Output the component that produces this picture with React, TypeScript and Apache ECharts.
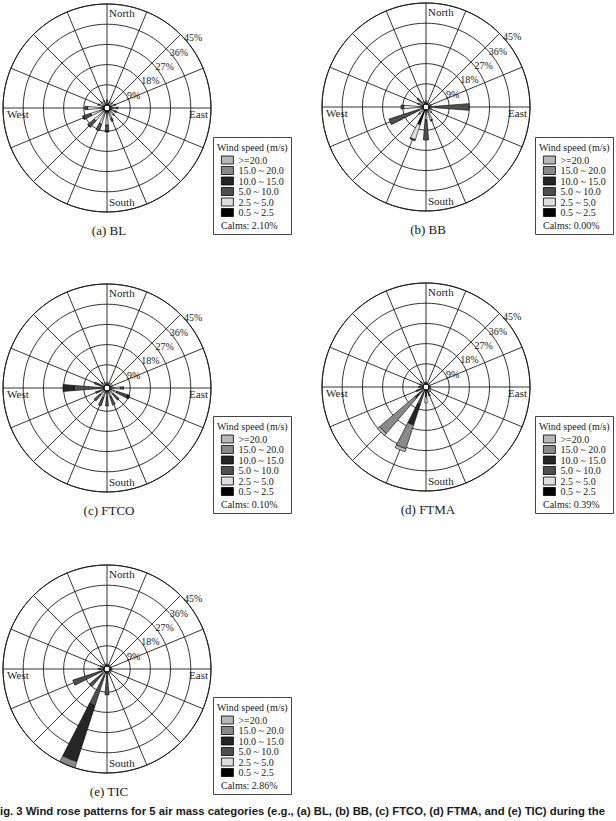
import React, { useEffect, useRef } from "react";
import * as echarts from "echarts";

// 16 compass sectors, clockwise from North
const directions = ["N", "NNE", "NE", "ENE", "E", "ESE", "SE", "SSE", "S", "SSW", "SW", "WSW", "W", "WNW", "NW", "NNW"];
// speed bins from centre outwards (stack order)
const speedBins = ["0.5 ~ 2.5", "2.5 ~ 5.0", "5.0 ~ 10.0", "10.0 ~ 15.0", "15.0 ~ 20.0", ">=20.0"];
// legend order (top to bottom)
const legendOrder = [">=20.0", "15.0 ~ 20.0", "10.0 ~ 15.0", "5.0 ~ 10.0", "2.5 ~ 5.0", "0.5 ~ 2.5"];
const ringMax = 45;
const ringStep = 9;
const panelTitles = ["(a) BL", "(b) BB", "(c) FTCO", "(d) FTMA", "(e) TIC"];
const calmValues = ["2.10%", "0.00%", "0.10%", "0.39%", "2.86%"];
const cardinalNames = ["North", "East", "South", "West"];
const captionText = "ig. 3 Wind rose patterns for 5 air mass categories (e.g., (a) BL, (b) BB, (c) FTCO, (d) FTMA, and (e) TIC) during the";

// (a) BL  — frequency (%) per direction for each speed bin
const bl_05 = [0.4, 0.4, 0.4, 0.5, 0.5, 0.5, 0.5, 0.6, 0.8, 0.8, 0.8, 0.8, 0.8, 0.5, 0.4, 0.4];
const bl_25 = [1.6, 1.2, 1.2, 1.8, 2.5, 2.0, 2.0, 3.0, 5.5, 5.5, 5.5, 5.5, 6.5, 2.0, 1.6, 1.4];
const bl_50 = [0.2, 0.2, 0.2, 0.4, 0.6, 0.8, 0.5, 1.3, 2.7, 3.1, 3.5, 3.5, 1.2, 0.4, 0.3, 0.2];
const bl_100 = [0, 0, 0, 0, 0, 0, 0, 0, 0.4, 0, 0.2, 0.3, 0, 0, 0, 0];
const bl_150 = [0, 0, 0, 0, 0, 0, 0, 0, 0, 0, 0, 0, 0, 0, 0, 0];
const bl_200 = [0, 0, 0, 0, 0, 0, 0, 0, 0, 0, 0, 0, 0, 0, 0, 0];

// (b) BB
const bb_05 = [0.4, 0.3, 0.3, 0.3, 0.4, 0.3, 0.3, 0.3, 0.4, 7.0, 0.3, 0.3, 0.4, 0.3, 0.3, 0.4];
const bb_25 = [1.1, 0.7, 0.7, 1.2, 2.4, 1.2, 1.5, 4.5, 4.0, 7.0, 2.2, 1.7, 8.2, 1.7, 1.0, 1.1];
const bb_50 = [0, 0, 0, 0, 15.0, 0, 0.2, 0.5, 9.0, 0.5, 0.5, 14.0, 1.2, 0.5, 2.7, 0];
const bb_100 = [0, 0, 0, 0, 0, 0, 0, 0, 0, 0, 0, 0, 0, 0, 0, 0];
const bb_150 = [0, 0, 0, 0, 0, 0, 0, 0, 0, 0, 0, 0, 0, 0, 0, 0];
const bb_200 = [0, 0, 0, 0, 0, 0, 0, 0, 0, 0, 0, 0, 0, 0, 0, 0];

// (c) FTCO
const fc_05 = [0.3, 0.3, 0.3, 0.3, 0.3, 0.3, 0.3, 0.3, 0.3, 0.3, 0.3, 0.3, 0.3, 0.3, 0.3, 0.3];
const fc_25 = [1.0, 1.0, 1.0, 1.2, 4.3, 3.0, 2.0, 2.5, 2.4, 2.8, 2.5, 1.5, 1.5, 0.7, 1.2, 1.0];
const fc_50 = [0, 0, 0, 0, 1.5, 5.1, 3.5, 3.9, 4.0, 4.0, 3.4, 2.2, 11.5, 3.5, 0.7, 0];
const fc_100 = [0, 0, 0, 0, 0, 1.0, 0, 0, 0, 0, 0, 0, 5.0, 0, 0, 0];
const fc_150 = [0, 0, 0, 0, 0, 0, 0, 0, 0, 0, 0, 0, 0, 0, 0, 0];
const fc_200 = [0, 0, 0, 0, 0, 0, 0, 0, 0, 0, 0, 0, 0, 0, 0, 0];

// (d) FTMA
const fm_05 = [0.3, 0.2, 0.2, 0.2, 0.3, 0.3, 0.3, 0.3, 3.0, 0.3, 0.3, 0.3, 0.3, 0.3, 0.3, 0.3];
const fm_25 = [0.6, 0.4, 0.4, 0.4, 0.5, 0.6, 1.0, 0.7, 2.8, 1.3, 0.7, 1.0, 1.0, 1.0, 1.2, 0.7];
const fm_50 = [0, 0, 0, 0, 0, 0, 0.2, 2.0, 0, 5.5, 2.5, 2.0, 0.7, 0.5, 0.5, 0];
const fm_100 = [0, 0, 0, 0, 0, 0, 0, 0, 0, 9.4, 1.6, 0, 0, 0, 0, 0];
const fm_150 = [0, 0, 0, 0, 0, 0, 0, 0, 0, 11.1, 20.8, 0, 0, 0, 0, 0];
const fm_200 = [0, 0, 0, 0, 0, 0, 0, 0, 0, 1.4, 1.3, 0, 0, 0, 0, 0];

// (e) TIC
const tc_05 = [0.3, 0.3, 0.3, 0.3, 0.3, 0.3, 0.3, 0.3, 0.3, 0.5, 0.3, 0.3, 0.3, 0.3, 0.3, 0.3];
const tc_25 = [0.7, 0.5, 0.5, 0.5, 0.7, 0.6, 0.7, 1.2, 1.5, 1.5, 1.0, 1.0, 1.5, 1.0, 1.2, 0.7];
const tc_50 = [0, 0, 0, 0, 0, 0, 0, 0, 8.4, 13.9, 7.6, 13.4, 0.7, 0.7, 0, 0];
const tc_100 = [0, 0, 0, 0, 0, 0, 0, 0, 0, 26.2, 0, 0, 0, 0, 0, 0];
const tc_150 = [0, 0, 0, 0, 0, 0, 0, 0, 0, 2.8, 0, 0, 0, 0, 0, 0];
const tc_200 = [0, 0, 0, 0, 0, 0, 0, 0, 0, 0, 0, 0, 0, 0, 0, 0];

const roseData = [
  [bl_05, bl_25, bl_50, bl_100, bl_150, bl_200],
  [bb_05, bb_25, bb_50, bb_100, bb_150, bb_200],
  [fc_05, fc_25, fc_50, fc_100, fc_150, fc_200],
  [fm_05, fm_25, fm_50, fm_100, fm_150, fm_200],
  [tc_05, tc_25, tc_50, tc_100, tc_150, tc_200],
];

// ---- styles / layout ----
const binColors = ["#000000", "#dedede", "#4f4f4f", "#262626", "#8a8a8a", "#b8b8b8"];
const centers = [
  [107, 108],
  [426, 107],
  [107, 388],
  [426, 387],
  [107, 669],
];
const legendBoxes = [
  [213, 137],
  [535, 137],
  [213, 416],
  [535, 416],
  [213, 697],
];
const R_OUT = 104;
const R_IN = 3;
const SERIF = '"Liberation Serif", "Times New Roman", serif';
const LINE = "#1e1e1e";

function txt(text: string, x: number, y: number, size: number, align: string, extra: any = {}) {
  return {
    type: "text",
    x,
    y,
    silent: true,
    style: {
      text,
      fill: "#1a1a1a",
      font: `${extra.weight || "normal"} ${size}px ${extra.family || SERIF}`,
      textAlign: align,
      align,
      textVerticalAlign: "middle",
      verticalAlign: "middle",
    },
  };
}

export default function App() {
  const ref = useRef<HTMLDivElement>(null);

  useEffect(() => {
    if (!ref.current) return;
    const chart = echarts.init(ref.current, null, { renderer: "svg" });

    const polar: any[] = [];
    const angleAxis: any[] = [];
    const radiusAxis: any[] = [];
    const series: any[] = [];
    const legend: any[] = [];
    const graphic: any[] = [];

    centers.forEach(([cx, cy], i) => {
      // grid polar
      polar.push({ center: [cx, cy], radius: [R_IN, R_OUT] });
      angleAxis.push({
        polarIndex: 2 * i,
        type: "value",
        min: 0,
        max: 360,
        interval: 22.5,
        startAngle: 45,
        clockwise: true,
        axisLine: { show: true, lineStyle: { color: LINE, width: 1 } },
        axisTick: { show: false },
        axisLabel: { show: false },
        splitLine: { show: true, lineStyle: { color: LINE, width: 0.9 } },
      });
      radiusAxis.push({
        polarIndex: 2 * i,
        type: "value",
        min: 0,
        max: ringMax,
        interval: ringStep,
        axisLine: { show: false },
        axisTick: { show: false },
        splitLine: { show: true, lineStyle: { color: LINE, width: 0.9 } },
        axisLabel: {
          show: true,
          formatter: "{value}%",
          showMinLabel: false,
          margin: -5,
          align: "left",
          verticalAlign: "middle",
          fontFamily: SERIF,
          fontSize: 10,
          color: "#1a1a1a",
        },
        z: 3,
      });
      // bars polar
      polar.push({ center: [cx, cy], radius: [R_IN, R_OUT] });
      angleAxis.push({
        polarIndex: 2 * i + 1,
        type: "category",
        data: directions,
        startAngle: 90 + 11.25,
        clockwise: true,
        boundaryGap: true,
        axisLine: { show: false },
        axisTick: { show: false },
        axisLabel: { show: false },
        splitLine: { show: false },
      });
      radiusAxis.push({
        polarIndex: 2 * i + 1,
        type: "value",
        min: 0,
        max: ringMax,
        axisLine: { show: false },
        axisTick: { show: false },
        axisLabel: { show: false },
        splitLine: { show: false },
      });
      roseData[i].forEach((vals, b) => {
        series.push({
          type: "bar",
          coordinateSystem: "polar",
          polarIndex: 2 * i + 1,
          name: speedBins[b],
          stack: "rose" + i,
          barWidth: "40%",
          data: vals.map((v) => (v === 0 ? null : v)),
          itemStyle: { color: binColors[b], borderColor: "#000", borderWidth: 0.6 },
          silent: true,
          z: 4,
        });
      });

      // cardinal labels
      graphic.push(txt(cardinalNames[0], cx + 2, cy - 95, 11, "left"));
      graphic.push(txt(cardinalNames[1], cx + 101, cy + 6, 11, "right"));
      graphic.push(txt(cardinalNames[2], cx + 2, cy + 94, 11, "left"));
      graphic.push(txt(cardinalNames[3], cx - 100, cy + 6, 11, "left"));
      // panel title
      graphic.push(txt(panelTitles[i], cx + 2, cy + 122, 13, "center"));

      // legend box
      const [lx, ly] = legendBoxes[i];
      graphic.push({
        type: "rect",
        silent: true,
        shape: { x: lx + 0.5, y: ly + 0.5, width: 78, height: 97 },
        style: { fill: "#fff", stroke: "#444", lineWidth: 1 },
        z: -1,
      });
      graphic.push(txt("Wind speed (m/s)", lx + 4, ly + 10, 10, "left"));
      graphic.push(txt("Calms: " + calmValues[i], lx + 8, ly + 88, 10, "left"));
      legend.push({
        left: lx + 8,
        top: ly + 18,
        orient: "vertical",
        data: legendOrder,
        icon: "rect",
        itemWidth: 12,
        itemHeight: 8,
        itemGap: 0.5,
        padding: 0,
        selectedMode: false,
        textStyle: { fontFamily: SERIF, fontSize: 10, color: "#1a1a1a", lineHeight: 10 },
        itemStyle: { borderColor: "#000", borderWidth: 0.8 },
      });
    });

    graphic.push(
      txt(captionText, 0, 811, 11.3, "left", { weight: "bold", family: '"Liberation Sans", Arial, sans-serif' })
    );

    chart.setOption({
      animation: false,
      backgroundColor: "#ffffff",
      polar,
      angleAxis,
      radiusAxis,
      series,
      legend,
      graphic: { elements: graphic },
    });

    return () => chart.dispose();
  }, []);

  return (
    <div
      ref={ref}
      style={{ position: "fixed", left: 0, top: 0, width: 616, height: 821, background: "#fff" }}
    />
  );
}
